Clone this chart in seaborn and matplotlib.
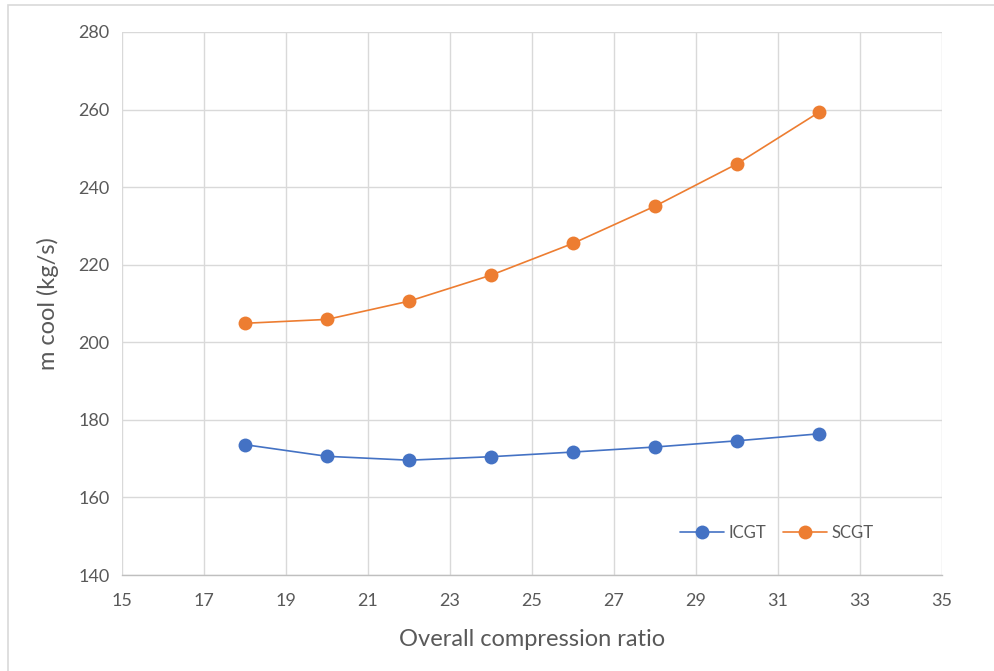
import matplotlib
matplotlib.use("Agg")
import matplotlib.pyplot as plt
from matplotlib.patches import Rectangle
import pandas as pd
import seaborn as sns

# Overall compression ratio vs coolant mass flow
ratio = [18, 20, 22, 24, 26, 28, 30, 32]
icgt = [173.6, 170.6, 169.6, 170.5, 171.7, 173.0, 174.6, 176.4]
scgt = [204.9, 205.9, 210.6, 217.3, 225.5, 235.1, 246.0, 259.3]
series_names = ["ICGT", "SCGT"]
series_colors = ["#4472C4", "#ED7D31"]
x_ticks = [15, 17, 19, 21, 23, 25, 27, 29, 31, 33, 35]
y_ticks = [140, 160, 180, 200, 220, 240, 260, 280]

df = pd.DataFrame({
    "ratio": ratio * 2,
    "m_cool": icgt + scgt,
    "cycle": [series_names[0]] * len(ratio) + [series_names[1]] * len(ratio),
})

sns.set_theme(style="white")
plt.rcParams["font.family"] = ["Lato", "DejaVu Sans"]

fig = plt.figure(figsize=(9.95, 6.71), dpi=100)
ax = fig.add_axes([122 / 995, 1 - 575 / 671, (942 - 122) / 995, (575 - 32) / 671])

# light frame around the whole chart
fig.patches.append(Rectangle((8 / 995, -0.05), 1.1, 0.05 + (671 - 5) / 671,
                             transform=fig.transFigure, fill=False,
                             edgecolor="#d9d9d9", linewidth=1.2))

sns.lineplot(data=df, x="ratio", y="m_cool", hue="cycle", hue_order=series_names,
             palette=series_colors, marker="o", markersize=10, linewidth=1.2,
             markeredgewidth=0, ax=ax, legend=True, zorder=3)

ax.set_xlim(15, 35)
ax.set_ylim(140, 280)
ax.set_xticks(x_ticks)
ax.set_yticks(y_ticks)
ax.grid(True, color="#d9d9d9", linewidth=1.0)
ax.set_axisbelow(True)
for side in ["top", "right", "left"]:
    ax.spines[side].set_visible(False)
ax.spines["bottom"].set_color("#bfbfbf")
ax.spines["bottom"].set_linewidth(1.0)

ax.tick_params(axis="both", length=0, labelsize=13, labelcolor="#595959")
ax.tick_params(axis="y", pad=9)
ax.tick_params(axis="x", pad=13)
ax.set_xlabel("Overall compression ratio", fontsize=17, color="#595959", labelpad=14)
ax.set_ylabel("m cool (kg/s)", fontsize=17, color="#595959", labelpad=14)

handles, labels = ax.get_legend_handles_labels()
leg = ax.legend(handles, labels, loc="lower right", bbox_to_anchor=(0.935, 0.035),
                ncol=2, frameon=False, fontsize=12, handlelength=2.6,
                columnspacing=1.0, handletextpad=0.3)
for t in leg.get_texts():
    t.set_color("#595959")

fig.savefig("out.png", dpi=100)
